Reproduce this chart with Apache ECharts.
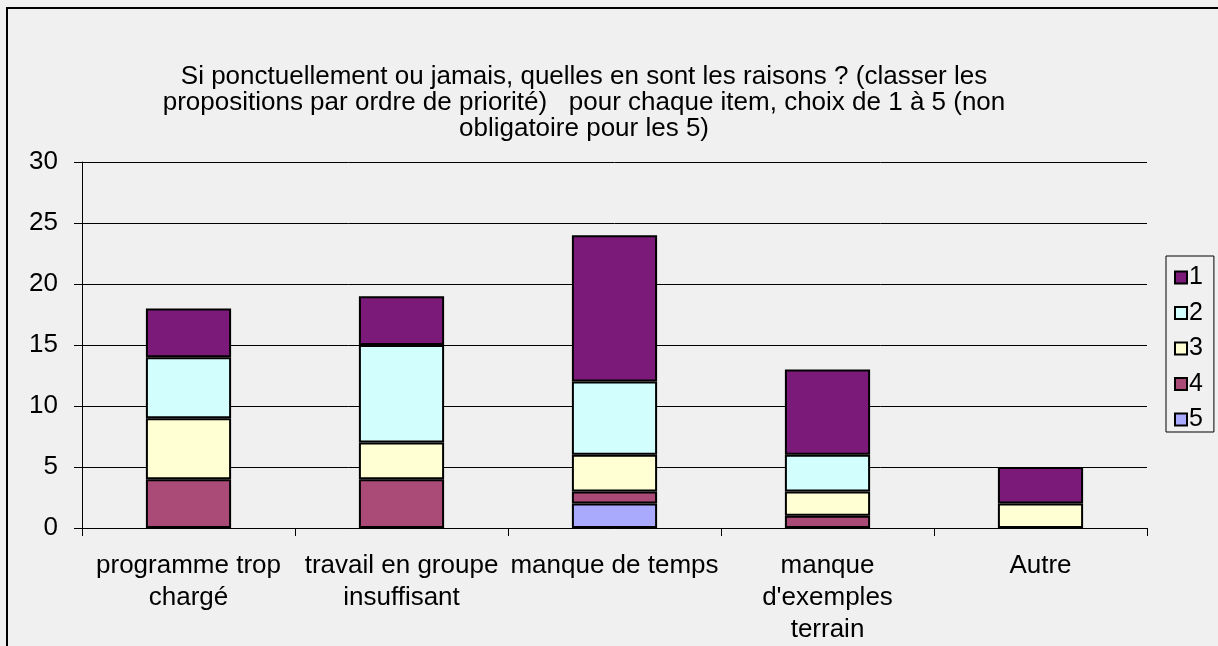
<!DOCTYPE html>
<html>
<head>
<meta charset="utf-8">
<script src="https://cdn.jsdelivr.net/npm/echarts@6/dist/echarts.min.js"></script>
<style>
  html, body { margin: 0; padding: 0; background: #f0f0f0; }
  #chart { width: 1218px; height: 646px; }
</style>
</head>
<body>
<div id="chart"></div>
<script>
// categories and values, bottom (5) to top (1) of each stack
var categories = ['programme trop\nchargé', 'travail en groupe\ninsuffisant', 'manque de temps', "manque\nd'exemples\nterrain", 'Autre'];
var rank5 = [0, 0, 2, 0, 0];
var rank4 = [4, 4, 1, 1, 0];
var rank3 = [5, 3, 3, 2, 2];
var rank2 = [5, 8, 6, 3, 0];
var rank1 = [4, 4, 12, 7, 3];
var yTicks = [0, 5, 10, 15, 20, 25, 30];

var colors = {
  '1': '#7b1a78',
  '2': '#d3fefe',
  '3': '#ffffd3',
  '4': '#a94a77',
  '5': '#a9a9fe'
};

var chart = echarts.init(document.getElementById('chart'));

function mkSeries(name, data) {
  return {
    name: name,
    type: 'bar',
    stack: 'total',
    barWidth: '40%',
    data: data.map(function (v) { return v === 0 ? null : v; }),
    itemStyle: { color: colors[name], borderColor: '#000', borderWidth: 2 },
    emphasis: { disabled: true }
  };
}

var option = {
  backgroundColor: '#f0f0f0',
  animation: false,
  title: {
    text: 'Si ponctuellement ou jamais, quelles en sont les raisons ? (classer les\npropositions par ordre de priorité)   pour chaque item, choix de 1 à 5 (non\nobligatoire pour les 5)',
    left: 579,
    top: 59,
    textAlign: 'center',
    textStyle: {
      fontFamily: 'Liberation Sans, Arial',
      fontSize: 26,
      fontWeight: 'normal',
      color: '#000',
      lineHeight: 26
    }
  },
  legend: {
    data: ['1', '2', '3', '4', '5'],
    orient: 'vertical',
    left: 1166,
    top: 256,
    padding: [9, 11, 0, 8],
    itemGap: 10.5,
    itemWidth: 12,
    itemHeight: 12,
    icon: 'rect',
    borderColor: '#000',
    borderWidth: 1,
    backgroundColor: '#f0f0f0',
    selectedMode: false,
    textStyle: { fontFamily: 'Liberation Sans, Arial', fontSize: 25, lineHeight: 20, color: '#000', padding: [0, 0, 0, -3] },
    itemStyle: { borderColor: '#000', borderWidth: 2 }
  },
  grid: { left: 82, right: 71, top: 162, bottom: 118 },
  xAxis: {
    type: 'category',
    data: categories,
    axisLine: { lineStyle: { color: '#000', width: 1 } },
    axisTick: { show: true, length: 8, lineStyle: { color: '#000' } },
    axisLabel: {
      interval: 0,
      margin: 22,
      fontFamily: 'Liberation Sans, Arial',
      fontSize: 26,
      lineHeight: 32,
      color: '#000'
    }
  },
  yAxis: {
    type: 'value',
    min: 0,
    max: 30,
    interval: 5,
    axisLine: { show: true, lineStyle: { color: '#000', width: 1 } },
    axisTick: { show: true, length: 8, lineStyle: { color: '#000' } },
    axisLabel: {
      margin: 24,
      fontFamily: 'Liberation Sans, Arial',
      fontSize: 26,
      color: '#000',
      formatter: function (v) { return yTicks.indexOf(v) >= 0 ? String(v) : ''; }
    },
    splitLine: { show: true, lineStyle: { color: '#000', width: 1 } }
  },
  graphic: [{
    type: 'rect',
    shape: { x: 7, y: 8, width: 1230, height: 660 },
    style: { fill: null, stroke: '#000', lineWidth: 2 },
    silent: true
  }],
  series: [
    mkSeries('5', rank5),
    mkSeries('4', rank4),
    mkSeries('3', rank3),
    mkSeries('2', rank2),
    mkSeries('1', rank1)
  ]
};

chart.setOption(option);
</script>
</body>
</html>
